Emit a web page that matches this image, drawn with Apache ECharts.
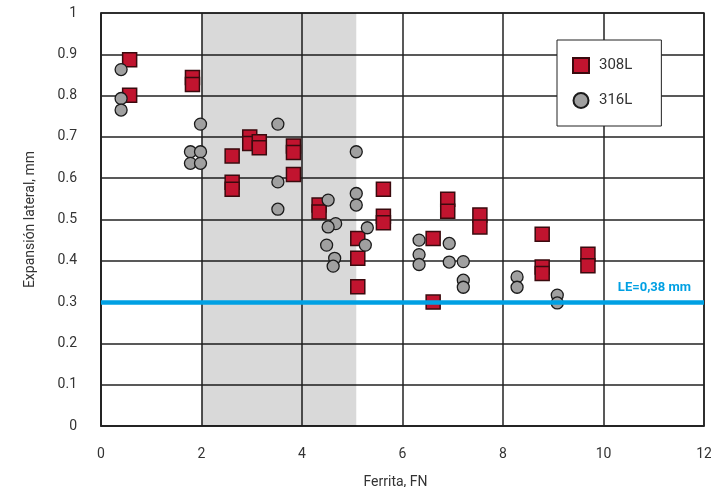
<!DOCTYPE html>
<html>
<head>
<meta charset="utf-8">
<script src="https://cdn.jsdelivr.net/npm/echarts@6/dist/echarts.min.js"></script>
<style>
html,body{margin:0;padding:0;background:#fff;overflow:hidden;}
#c{width:711px;height:487px;}
</style>
</head>
<body>
<div id="c"></div>
<script>
// Ferrita (FN) and lateral expansion (mm)
const x308 = [0.57,0.57,1.82,1.82,2.61,2.61,2.61,2.96,2.96,3.15,3.15,3.83,3.83,3.83,4.34,4.34,5.11,5.11,5.11,5.62,5.62,5.62,6.61,6.61,6.90,6.90,7.54,7.54,8.78,8.78,8.78,9.69,9.69];
const y308 = [0.887,0.801,0.844,0.827,0.654,0.590,0.573,0.700,0.684,0.688,0.674,0.678,0.662,0.609,0.535,0.518,0.454,0.406,0.337,0.573,0.508,0.492,0.454,0.300,0.549,0.520,0.511,0.482,0.464,0.385,0.369,0.416,0.388];
const x316 = [0.40,0.40,0.40,1.78,1.98,1.78,1.98,1.98,3.52,3.52,3.52,4.52,4.67,4.52,4.49,4.65,4.62,5.08,5.08,5.08,5.30,5.26,6.33,6.33,6.33,6.93,6.93,7.21,7.21,7.21,8.28,8.28,9.08,9.08];
const y316 = [0.863,0.793,0.765,0.664,0.664,0.636,0.636,0.731,0.731,0.591,0.525,0.547,0.490,0.482,0.438,0.406,0.387,0.664,0.563,0.535,0.480,0.438,0.450,0.415,0.391,0.442,0.397,0.398,0.353,0.336,0.361,0.336,0.317,0.298];
const seriesNames = ['308L','316L'];
const shadeRange = [2, 5.08];
const leLineValue = 0.302;
const leLabel = 'LE=0,38 mm';
const xTicks = {min:0, max:12, interval:2};
const yTicks = {min:0, max:1, interval:0.1};

const FONT = 'Roboto';
const pairs = (xs, ys) => xs.map((v,i)=>[v, ys[i]]);

const chart = echarts.init(document.getElementById('c'), null, {renderer:'canvas'});
chart.setOption({
  animation:false,
  backgroundColor:'#fff',
  textStyle:{fontFamily:FONT},
  grid:{left:101,right:7,top:13,bottom:61,containLabel:false,outerBoundsMode:'none',
    show:true,borderColor:'#222',borderWidth:1.5,backgroundColor:'transparent'},
  legend:{
    data:seriesNames,
    orient:'vertical',
    left:557, top:40,
    padding:[17,29,17,15],
    itemWidth:16, itemHeight:15, itemGap:18,
    borderColor:'#222', borderWidth:1, backgroundColor:'#fff',
    textStyle:{fontFamily:FONT,fontSize:15,color:'#333',padding:[0,0,0,5]}
  },
  xAxis:{
    type:'value', min:xTicks.min, max:xTicks.max, interval:xTicks.interval,
    name:'Ferrita, FN', nameLocation:'middle', nameGap:49,
    nameTextStyle:{fontFamily:FONT,fontSize:14,color:'#333',padding:[0,14,0,0]},
    axisLine:{show:true,lineStyle:{color:'#222',width:1.5}},
    axisTick:{show:false},
    axisLabel:{margin:21,fontFamily:FONT,fontSize:14,color:'#333'},
    splitLine:{show:true,lineStyle:{color:'#222',width:1.5}}
  },
  yAxis:{
    type:'value', min:yTicks.min, max:yTicks.max, interval:yTicks.interval,
    name:'Expansión lateral, mm', nameLocation:'middle', nameGap:64,
    nameTextStyle:{fontFamily:FONT,fontSize:14,color:'#333'},
    axisLine:{show:true,lineStyle:{color:'#222',width:1.5}},
    axisTick:{show:false},
    axisLabel:{margin:24,fontFamily:FONT,fontSize:14,color:'#333',
      formatter:v=>String(Math.round(v*10)/10)},
    splitLine:{show:true,lineStyle:{color:'#222',width:1.5}}
  },
  series:[
    {
      name:'_bg', type:'scatter', data:[], z:1, silent:true,
      markArea:{silent:true,itemStyle:{color:'rgba(0,0,0,0.15)'},
        data:[[{xAxis:shadeRange[0]},{xAxis:shadeRange[1]}]]},
      markLine:{silent:true,symbol:['none','none'],
        lineStyle:{color:'#00a0e3',width:4.5,type:'solid'},
        label:{show:true,position:'insideEndTop',formatter:leLabel,
          color:'#00a0e3',fontWeight:'bold',fontFamily:FONT,fontSize:13,distance:[13,8]},
        data:[{yAxis:leLineValue}]}
    },
    {
      name:seriesNames[0], type:'scatter', z:3, symbol:'rect', symbolSize:14,
      itemStyle:{color:'#c1142f',borderColor:'#3a0a0e',borderWidth:1.5,opacity:1},
      data:pairs(x308,y308)
    },
    {
      name:seriesNames[1], type:'scatter', z:4, symbol:'circle', symbolSize:12,
      itemStyle:{color:'#a0a0a0',borderColor:'#1a1a1a',borderWidth:1.3,opacity:1},
      data:pairs(x316,y316)
    }
  ]
});
</script>
</body>
</html>
